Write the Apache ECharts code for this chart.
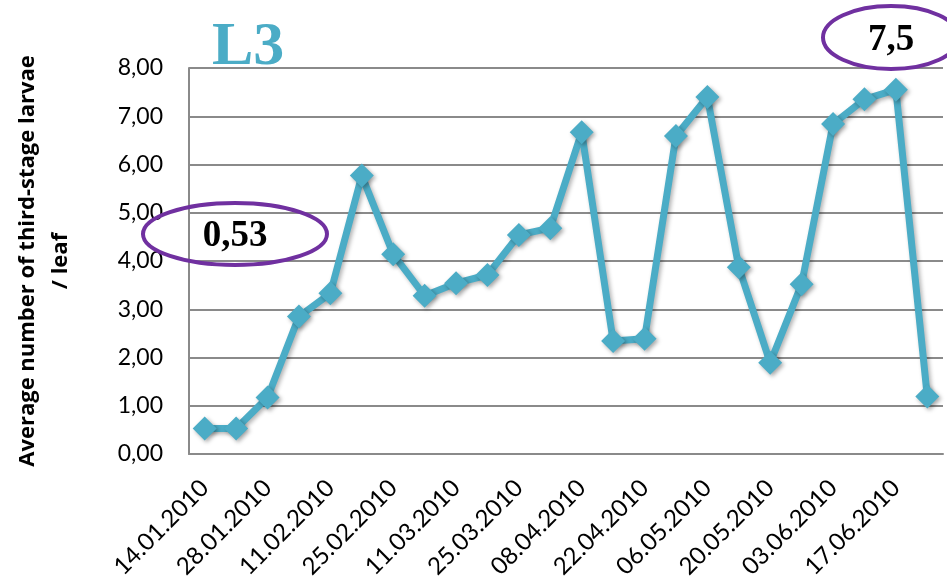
<!DOCTYPE html>
<html>
<head>
<meta charset="utf-8">
<script src="https://cdn.jsdelivr.net/npm/echarts@6/dist/echarts.min.js"></script>
<style>html,body{margin:0;padding:0;background:#fff;}#c{width:947px;height:580px;}</style>
</head>
<body>
<div id="c"></div>
<script>
const categories = ['14.01.2010','21.01.2010','28.01.2010','04.02.2010','11.02.2010','18.02.2010','25.02.2010','04.03.2010','11.03.2010','18.03.2010','25.03.2010','01.04.2010','08.04.2010','15.04.2010','22.04.2010','29.04.2010','06.05.2010','13.05.2010','20.05.2010','27.05.2010','03.06.2010','10.06.2010','17.06.2010','24.06.2010'];
const l3Values = [0.53,0.53,1.17,2.85,3.33,5.77,4.14,3.28,3.54,3.71,4.54,4.68,6.67,2.34,2.39,6.59,7.40,3.87,1.89,3.52,6.84,7.35,7.55,1.19];
const yTicks = {min:0, max:8, interval:1};
const titleText = 'L3';
const yName = 'Average number of third-stage larvae\n/ leaf';
const noteLeft = '0,53';
const noteRight = '7,5';

const chart = echarts.init(document.getElementById('c'));
const blue = '#4BACC6';
const purple = '#7030A0';
chart.setOption({
  animation: false,
  title: {
    text: titleText, left: 207, top: 12,
    textStyle: {fontFamily: 'Liberation Serif', fontWeight: 'bold', fontSize: 62, color: blue}
  },
  grid: {left: 189, right: 4, top: 68, bottom: 126, outerBoundsMode: 'none', containLabel: false},
  xAxis: {
    type: 'category', data: categories, boundaryGap: true,
    axisLine: {show: true, lineStyle: {color: '#8a8a8a', width: 2}},
    axisTick: {show: false},
    axisLabel: {interval: 1, rotate: 45, margin: 30, color: '#000', fontFamily: 'Lato', fontSize: 24}
  },
  yAxis: {
    type: 'value', min: yTicks.min, max: yTicks.max, interval: yTicks.interval,
    name: yName, nameLocation: 'middle', nameRotate: 90, nameGap: 112,
    nameTextStyle: {fontFamily: 'Open Sans', fontWeight: 'bold', fontSize: 22, color: '#000', lineHeight: 33},
    axisLine: {show: true, lineStyle: {color: '#8a8a8a', width: 2}},
    axisTick: {show: false},
    splitLine: {show: true, lineStyle: {color: '#8a8a8a', width: 2}},
    axisLabel: {margin: 26, color: '#000', fontFamily: 'Lato', fontSize: 23,
      formatter: v => v.toFixed(2).replace('.', ',')}
  },
  series: [{
    type: 'line', data: l3Values,
    symbol: 'diamond', symbolSize: 24, showAllSymbol: true,
    lineStyle: {color: blue, width: 7, shadowColor: 'rgba(0,0,0,0.3)', shadowBlur: 4, shadowOffsetX: 2, shadowOffsetY: 2},
    itemStyle: {color: blue, shadowColor: 'rgba(0,0,0,0.35)', shadowBlur: 4, shadowOffsetX: 2, shadowOffsetY: 2}
  }],
  graphic: [
    {type: 'ellipse', shape: {cx: 235, cy: 234, rx: 92, ry: 31}, style: {fill: 'none', stroke: purple, lineWidth: 4}, z: 10},
    {type: 'text', x: 235, y: 236, style: {text: noteLeft, align: 'center', verticalAlign: 'middle', font: 'bold 37px "Liberation Serif"', fill: '#000'}, z: 11},
    {type: 'ellipse', shape: {cx: 891, cy: 37.5, rx: 68, ry: 31.5}, style: {fill: 'none', stroke: purple, lineWidth: 4}, z: 10},
    {type: 'text', x: 891, y: 40, style: {text: noteRight, align: 'center', verticalAlign: 'middle', font: 'bold 37px "Liberation Serif"', fill: '#000'}, z: 11}
  ]
});
</script>
</body>
</html>
